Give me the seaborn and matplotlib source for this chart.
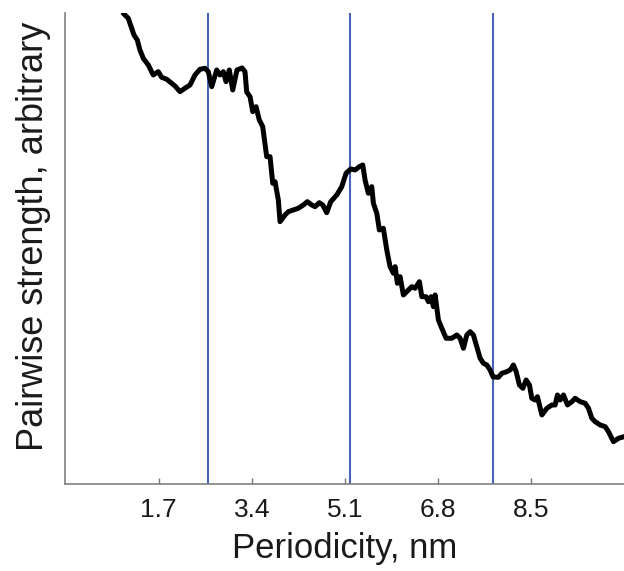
import pandas as pd
import matplotlib
matplotlib.use("Agg")
import matplotlib.pyplot as plt
import seaborn as sns

# periodicity (nm) and pairwise strength (arbitrary units)
periodicity = [
    1.057, 1.148, 1.210, 1.252, 1.312, 1.361, 1.422, 1.513, 1.604, 1.695,
    1.757, 1.849, 1.940, 2.000, 2.091, 2.182, 2.274, 2.365, 2.456, 2.547,
    2.608, 2.670, 2.761, 2.821, 2.881, 2.931, 2.991, 3.053, 3.131, 3.223,
    3.277, 3.308, 3.369, 3.418, 3.478, 3.538, 3.600, 3.673, 3.734, 3.783,
    3.825, 3.885, 3.916, 4.007, 4.068, 4.159, 4.250, 4.341, 4.414, 4.495,
    4.555, 4.633, 4.695, 4.768, 4.841, 4.951, 5.042, 5.120, 5.206, 5.285,
    5.363, 5.425, 5.467, 5.527, 5.589, 5.619, 5.681, 5.728, 5.801, 5.863,
    5.923, 5.984, 6.015, 6.057, 6.106, 6.166, 6.257, 6.319, 6.380, 6.458,
    6.502, 6.580, 6.622, 6.672, 6.714, 6.745, 6.805, 6.867, 6.945, 7.049,
    7.141, 7.201, 7.261, 7.323, 7.383, 7.443, 7.505, 7.566, 7.626, 7.688,
    7.748, 7.803, 7.899, 7.962, 8.053, 8.113, 8.173, 8.223, 8.283, 8.345,
    8.405, 8.465, 8.509, 8.569, 8.611, 8.692, 8.783, 8.874, 8.934, 8.976,
    9.026, 9.086, 9.159, 9.239, 9.299, 9.391, 9.482, 9.542, 9.604, 9.664,
    9.755, 9.847, 9.907, 9.998, 10.09, 10.19,
]
strength = [
    4.707, 4.657, 4.557, 4.490, 4.440, 4.340, 4.257, 4.190, 4.090, 4.123,
    4.067, 4.047, 4.007, 3.980, 3.923, 3.957, 3.990, 4.090, 4.147, 4.157,
    4.123, 3.973, 4.140, 4.090, 4.123, 4.023, 4.140, 3.940, 4.140, 4.160,
    4.123, 3.920, 3.873, 3.723, 3.773, 3.640, 3.573, 3.273, 3.273, 3.007,
    3.023, 2.840, 2.623, 2.690, 2.723, 2.740, 2.757, 2.790, 2.823, 2.790,
    2.773, 2.813, 2.790, 2.713, 2.823, 2.890, 2.973, 3.107, 3.150, 3.140,
    3.173, 3.190, 3.040, 2.907, 2.973, 2.807, 2.707, 2.540, 2.557, 2.340,
    2.173, 2.107, 2.173, 2.007, 2.073, 1.890, 1.940, 1.973, 1.957, 2.023,
    1.873, 1.873, 1.823, 1.873, 1.773, 1.890, 1.640, 1.557, 1.457, 1.457,
    1.490, 1.457, 1.357, 1.490, 1.523, 1.490, 1.373, 1.257, 1.207, 1.190,
    1.140, 1.070, 1.067, 1.107, 1.123, 1.140, 1.190, 1.123, 0.990, 0.957,
    1.040, 0.990, 0.857, 0.840, 0.873, 0.690, 0.757, 0.790, 0.790, 0.890,
    0.840, 0.890, 0.790, 0.823, 0.857, 0.823, 0.807, 0.757, 0.657, 0.623,
    0.590, 0.573, 0.523, 0.423, 0.457, 0.473,
]
marker_lines = [2.6, 5.2, 7.8]
tick_values = [1.7, 3.4, 5.1, 6.8, 8.5]

df = pd.DataFrame({"periodicity": periodicity, "strength": strength})

sns.set_style("ticks")
plt.rcParams["font.family"] = ["Liberation Sans", "DejaVu Sans"]

fig = plt.figure(figsize=(6.24, 5.71), dpi=100)
ax = fig.add_axes([0.1047, 0.1524, 0.8953, 0.8254])

for xv in marker_lines:
    ax.axvline(xv, color="#4a63b8", linewidth=1.5, zorder=1)

sns.lineplot(data=df, x="periodicity", y="strength", color="black",
             linewidth=3.6, ax=ax, zorder=2)

ax.set_xlim(0, 10.19)
ax.set_ylim(0, 4.713)
ax.set_xticks(tick_values)
ax.set_xticklabels([str(t) for t in tick_values])
ax.set_yticks([])

ax.tick_params(axis="x", direction="in", length=4, width=1, color="#777777",
               labelsize=19, pad=10, labelcolor="#1a1a1a")
sns.despine(ax=ax)
for side in ["left", "bottom"]:
    ax.spines[side].set_color("#808080")
    ax.spines[side].set_linewidth(1.2)

ax.set_xlabel("Periodicity, nm", fontsize=25, labelpad=7, color="#1a1a1a")
ax.set_ylabel("Pairwise strength, arbitrary", fontsize=26, labelpad=10,
              color="#1a1a1a", y=0.525)

fig.savefig("out.png", dpi=100)
